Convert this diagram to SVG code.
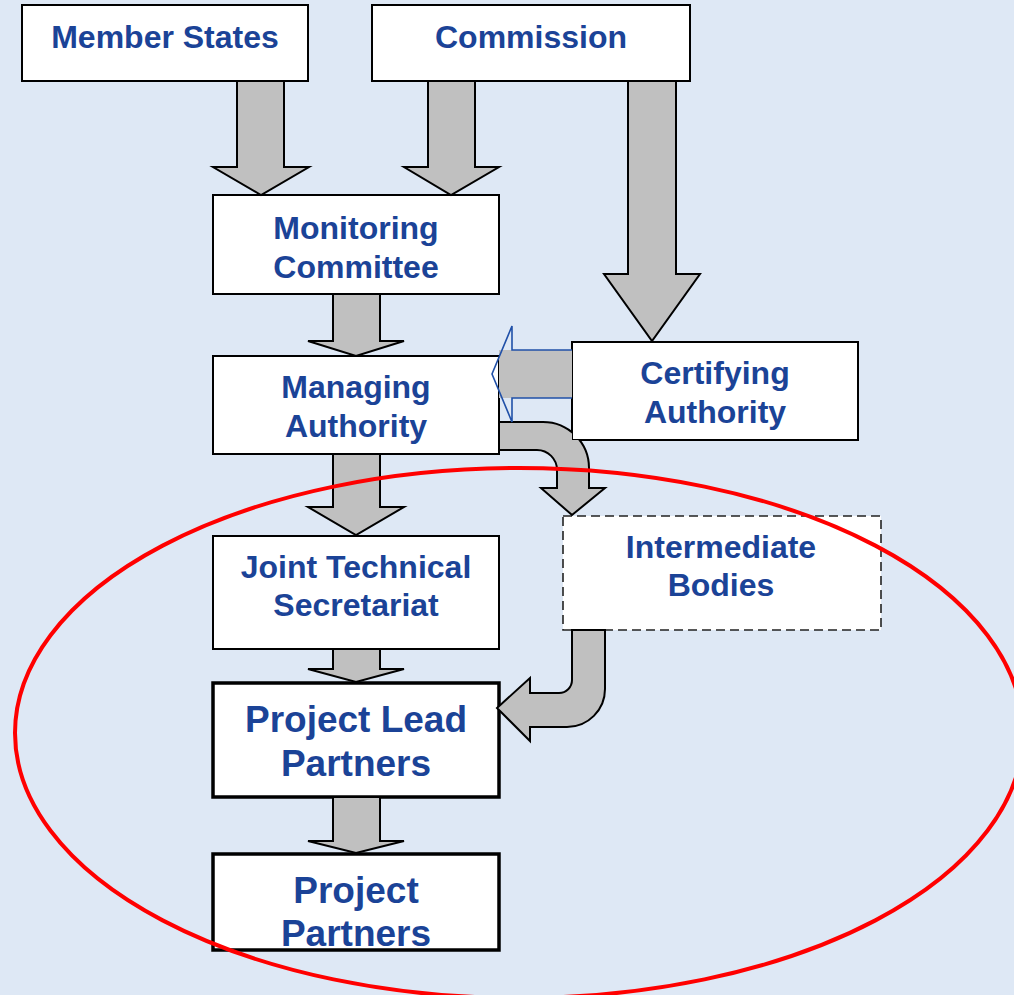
<svg xmlns="http://www.w3.org/2000/svg" width="1014" height="995" viewBox="0 0 1014 995">
<defs>
<style>
.box{fill:#ffffff;stroke:#000000;stroke-width:2}
.thick{fill:#ffffff;stroke:#000000;stroke-width:3.5}
.dash{fill:#ffffff;stroke:#222222;stroke-width:1.6;stroke-dasharray:9 5}
.arr{fill:#c0c0c0;stroke:#000000;stroke-width:2;stroke-linejoin:miter}
.t{font-family:"Liberation Sans",Arial,sans-serif;font-weight:bold;font-size:32px;fill:#1b4397;text-anchor:middle}
.tl{font-size:37px}
</style>
<clipPath id="noCert">
<path clip-rule="evenodd" d="M0,0H1014V995H0Z M572,342H858V440H572Z"/>
</clipPath>
</defs>
<rect x="0" y="0" width="1014" height="995" fill="#dee8f5"/>

<g id="nodes">
<g id="member-states"><rect class="box" x="22" y="5" width="286" height="76"/><text class="t" x="165" y="48">Member States</text></g>
<g id="commission"><rect class="box" x="372" y="5" width="318" height="76"/><text class="t" x="531" y="48">Commission</text></g>
<g id="monitoring-committee"><rect class="box" x="213" y="195" width="286" height="99"/><text class="t" x="356" y="239">Monitoring</text><text class="t" x="356" y="278">Committee</text></g>
<g id="managing-authority"><rect class="box" x="213" y="356" width="286" height="98"/><text class="t" x="356" y="398">Managing</text><text class="t" x="356" y="437">Authority</text></g>
<g id="certifying-authority"><rect class="box" x="572" y="342" width="286" height="98"/><text class="t" x="715" y="384">Certifying</text><text class="t" x="715" y="423">Authority</text></g>
<g id="joint-technical-secretariat"><rect class="box" x="213" y="536" width="286" height="113"/><text class="t" x="356" y="578">Joint Technical</text><text class="t" x="356" y="616">Secretariat</text></g>
<g id="intermediate-bodies"><rect class="dash" x="563" y="516" width="318" height="114"/><text class="t" x="721" y="558">Intermediate</text><text class="t" x="721" y="596">Bodies</text></g>
<g id="project-lead-partners"><rect class="thick" x="213" y="683" width="286" height="114"/><text class="t tl" x="356" y="732">Project Lead</text><text class="t tl" x="356" y="776">Partners</text></g>
<g id="project-partners"><rect class="thick" x="213" y="854" width="286" height="96"/><text class="t tl" x="356" y="903">Project</text><text class="t tl" x="356" y="946">Partners</text></g>
</g>

<g id="connectors">
<path class="arr" d="M237,81H284V167H309L261,195L213,167H237Z"/>
<path class="arr" d="M428,81H475V167H499L451,195L404,167H428Z"/>
<path class="arr" d="M628,81H676V274H700L652,341L604,274H628Z"/>
<path class="arr" d="M333,294H380V341H404L356,356L308,341H333Z"/>
<path class="arr" d="M333,454H380V507H404L356,535L308,507H333Z"/>
<path class="arr" d="M333,649H380V669H404L356,682L308,669H333Z"/>
<path class="arr" d="M333,797H380V841H404L356,853L308,841H333Z"/>
<path class="arr" clip-path="url(#noCert)" d="M499,422H543A46,46 0 0 1 589,468V488H605L572,515L541,488H557V470A20,20 0 0 0 537,450H499Z"/>
<path class="arr" d="M572,630V680A13,13 0 0 1 559,693H530V678L497,708L530,741V727H567A38,38 0 0 0 605,689V630Z"/>
<rect x="499" y="350" width="73" height="48" fill="#c0c0c0"/>
<path d="M572,350H512V326L492,374L512,422V398H572" fill="none" stroke="#2050a8" stroke-width="1.6" stroke-linejoin="miter"/>
</g>

<ellipse cx="519" cy="733" rx="504" ry="265" fill="none" stroke="#ff0000" stroke-width="4"/>
</svg>
